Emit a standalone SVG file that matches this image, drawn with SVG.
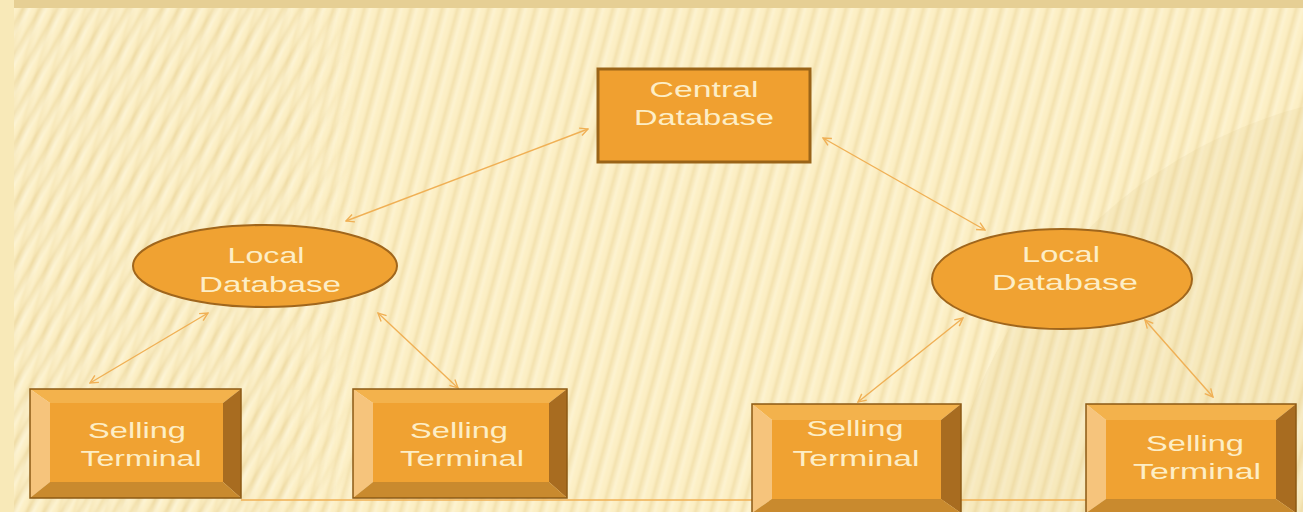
<svg xmlns="http://www.w3.org/2000/svg" width="1303" height="512" viewBox="0 0 1303 512">
<defs>
<style>
.txt{font-family:"Liberation Sans",Arial,sans-serif;font-size:22px;fill:#fdeec6;text-anchor:middle;}
.conn{stroke:#f0b055;stroke-width:1.4;fill:none;marker-start:url(#ah);marker-end:url(#ah);}
.face{fill:#f0a232;}
.bt{fill:#f3b24c;}
.bl{fill:#f6c47c;}
.br{fill:#a86c20;}
.bb{fill:#c98a2e;}
.edge{fill:none;stroke:#8c5a14;stroke-width:1.5;}
</style>
<marker id="ah" viewBox="0 0 10 10" refX="9" refY="5" markerWidth="10" markerHeight="10" markerUnits="userSpaceOnUse" orient="auto-start-reverse">
<path d="M1,1 L9,5 L1,9" fill="none" stroke="#f0b055" stroke-width="1.4"/>
</marker>
<linearGradient id="sg" x1="0" y1="0" x2="1" y2="0">
<stop offset="0" stop-color="#fffbe8" stop-opacity="0.7"/>
<stop offset="0.3" stop-color="#fcefc5" stop-opacity="0"/>
<stop offset="0.6" stop-color="#e6cd8c" stop-opacity="0.75"/>
<stop offset="1" stop-color="#fffbe8" stop-opacity="0.7"/>
</linearGradient>
<pattern id="p1" width="15" height="15" patternUnits="userSpaceOnUse" patternTransform="rotate(30)"><rect width="15" height="15" fill="url(#sg)"/></pattern>
<pattern id="p2" width="15" height="15" patternUnits="userSpaceOnUse" patternTransform="rotate(15)"><rect width="15" height="15" fill="url(#sg)"/></pattern>
<pattern id="p3" width="15" height="15" patternUnits="userSpaceOnUse" patternTransform="rotate(6)"><rect width="15" height="15" fill="url(#sg)"/></pattern>
<linearGradient id="fadeL" x1="0" y1="0" x2="1" y2="0">
<stop offset="0" stop-color="#fff" stop-opacity="1"/>
<stop offset="0.8" stop-color="#fff" stop-opacity="1"/>
<stop offset="1" stop-color="#fff" stop-opacity="0"/>
</linearGradient>
<mask id="m1"><rect x="0" y="0" width="360" height="512" fill="url(#fadeL)"/></mask>
</defs>

<g id="background">
<rect width="1303" height="512" fill="#fcefc5"/>
<g opacity="0.55">
<rect x="0" y="0" width="1303" height="512" fill="url(#p2)"/>
</g>
<g opacity="0.5" mask="url(#m1)">
<rect x="0" y="0" width="360" height="512" fill="#fcefc5"/>
<rect x="0" y="0" width="360" height="512" fill="url(#p1)"/>
</g>
<circle cx="1430" cy="580" r="490" fill="#d8bf7c" opacity="0.12"/>
<rect x="0" y="0" width="1303" height="8" fill="#e6cf94"/>
<rect x="0" y="0" width="14" height="512" fill="#f8e9b8"/>
</g>

<g id="connectors">
<line class="conn" x1="588" y1="129" x2="346" y2="221"/>
<line class="conn" x1="823" y1="138" x2="985" y2="230"/>
<line class="conn" x1="208" y1="313" x2="90" y2="383"/>
<line class="conn" x1="378" y1="313" x2="458" y2="388"/>
<line class="conn" x1="963" y1="318" x2="858" y2="402"/>
<line class="conn" x1="1145" y1="320" x2="1213" y2="397"/>
<line x1="241" y1="500" x2="1086" y2="500" stroke="#f0b055" stroke-width="1.5"/>
</g>

<g id="central-db">
<rect x="598" y="69" width="212" height="93" fill="#f0a030" stroke="#9a6418" stroke-width="3"/>
<text class="txt" x="704" y="97" textLength="109" lengthAdjust="spacingAndGlyphs">Central</text>
<text class="txt" x="704" y="125" textLength="140" lengthAdjust="spacingAndGlyphs">Database</text>
</g>

<g id="local-db-left">
<ellipse cx="265" cy="266" rx="132" ry="41" fill="#f0a232" stroke="#a0661c" stroke-width="2"/>
<text class="txt" x="266" y="263" textLength="77" lengthAdjust="spacingAndGlyphs">Local</text>
<text class="txt" x="270" y="292" textLength="142" lengthAdjust="spacingAndGlyphs">Database</text>
</g>

<g id="local-db-right">
<ellipse cx="1062" cy="279" rx="130" ry="50" fill="#f0a232" stroke="#a0661c" stroke-width="2"/>
<text class="txt" x="1061" y="262" textLength="78" lengthAdjust="spacingAndGlyphs">Local</text>
<text class="txt" x="1065" y="290" textLength="146" lengthAdjust="spacingAndGlyphs">Database</text>
</g>

<g id="terminal-1">
<rect class="face" x="50" y="403" width="173" height="79"/>
<polygon class="bt" points="30,389 241,389 223,403 50,403"/>
<polygon class="bl" points="30,389 50,403 50,482 30,498"/>
<polygon class="br" points="241,389 241,498 223,482 223,403"/>
<polygon class="bb" points="30,498 50,482 223,482 241,498"/>
<rect class="edge" x="30" y="389" width="211" height="109"/>
<text class="txt" x="137" y="438" textLength="98" lengthAdjust="spacingAndGlyphs">Selling</text>
<text class="txt" x="141" y="466" textLength="121" lengthAdjust="spacingAndGlyphs">Terminal</text>
</g>

<g id="terminal-2">
<rect class="face" x="373" y="403" width="176" height="79"/>
<polygon class="bt" points="353,389 567,389 549,403 373,403"/>
<polygon class="bl" points="353,389 373,403 373,482 353,498"/>
<polygon class="br" points="567,389 567,498 549,482 549,403"/>
<polygon class="bb" points="353,498 373,482 549,482 567,498"/>
<rect class="edge" x="353" y="389" width="214" height="109"/>
<text class="txt" x="459" y="438" textLength="98" lengthAdjust="spacingAndGlyphs">Selling</text>
<text class="txt" x="462" y="466" textLength="124" lengthAdjust="spacingAndGlyphs">Terminal</text>
</g>

<g id="terminal-3">
<rect class="face" x="772" y="420" width="169" height="79"/>
<polygon class="bt" points="752,404 961,404 941,420 772,420"/>
<polygon class="bl" points="752,404 772,420 772,499 752,513"/>
<polygon class="br" points="961,404 961,513 941,499 941,420"/>
<polygon class="bb" points="752,513 772,499 941,499 961,513"/>
<rect class="edge" x="752" y="404" width="209" height="109"/>
<text class="txt" x="855" y="436" textLength="97" lengthAdjust="spacingAndGlyphs">Selling</text>
<text class="txt" x="856" y="466" textLength="127" lengthAdjust="spacingAndGlyphs">Terminal</text>
</g>

<g id="terminal-4">
<rect class="face" x="1106" y="420" width="170" height="79"/>
<polygon class="bt" points="1086,404 1296,404 1276,420 1106,420"/>
<polygon class="bl" points="1086,404 1106,420 1106,499 1086,513"/>
<polygon class="br" points="1296,404 1296,513 1276,499 1276,420"/>
<polygon class="bb" points="1086,513 1106,499 1276,499 1296,513"/>
<rect class="edge" x="1086" y="404" width="210" height="109"/>
<text class="txt" x="1195" y="451" textLength="98" lengthAdjust="spacingAndGlyphs">Selling</text>
<text class="txt" x="1197" y="479" textLength="128" lengthAdjust="spacingAndGlyphs">Terminal</text>
</g>
</svg>
